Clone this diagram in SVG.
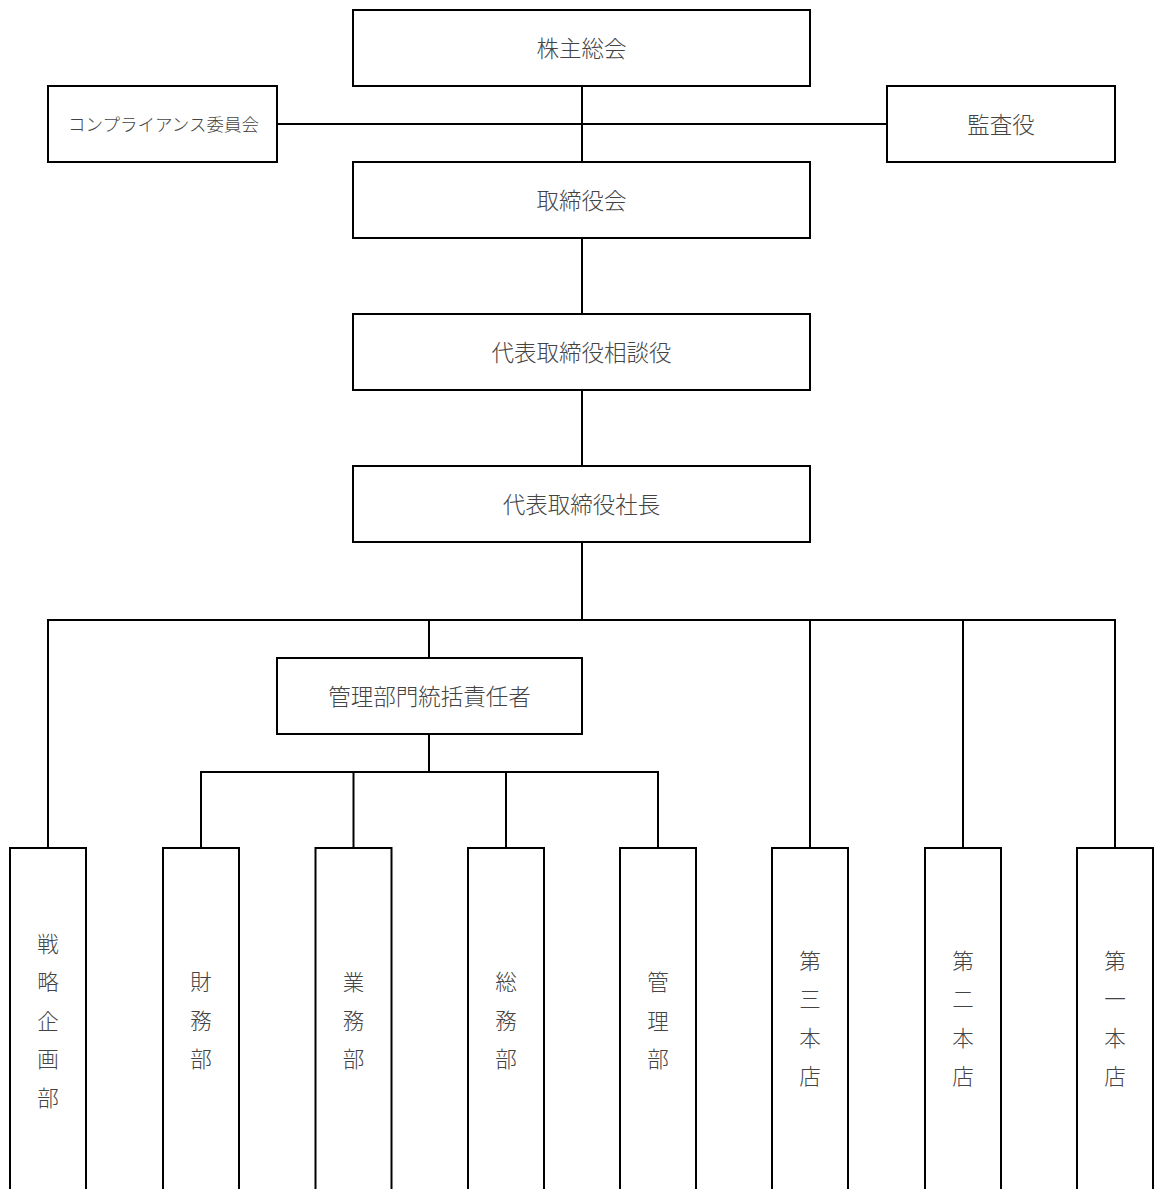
<svg xmlns="http://www.w3.org/2000/svg" width="1155" height="1189" viewBox="0 0 1155 1189">
<style>
.box{fill:#fff;stroke:#000;stroke-width:2}
.ln{fill:none;stroke:#000;stroke-width:2}
text{font-family:"Noto Sans CJK JP","Noto Sans CJK SC",sans-serif;font-weight:300;fill:#444;text-anchor:middle;dominant-baseline:central}
.t{font-size:22.5px}
.s{font-size:17.5px}
.v{font-size:21.5px}
</style>
<rect width="1155" height="1189" fill="#fff"/>
<g id="connectors">
<path class="ln" d="M582 86V162M582 238V314M582 390V466M582 542V620"/>
<path class="ln" d="M277 124H887"/>
<path class="ln" d="M48 848V620H1115V848M429 620V658M810 620V848M963 620V848"/>
<path class="ln" d="M429 734V772M201 848V772H658V848M353.5 772V848M506 772V848"/>
</g>
<g id="n-kabunushi"><rect class="box" x="353" y="10" width="457" height="76"/><text class="t" x="581.5" y="47">株主総会</text></g>
<g id="n-compliance"><rect class="box" x="48" y="86" width="229" height="76"/><text class="s" x="163.5" y="123">コンプライアンス委員会</text></g>
<g id="n-kansa"><rect class="box" x="887" y="86" width="228" height="76"/><text class="t" x="1001" y="123">監査役</text></g>
<g id="n-torishimariyakukai"><rect class="box" x="353" y="162" width="457" height="76"/><text class="t" x="581.5" y="199">取締役会</text></g>
<g id="n-soudanyaku"><rect class="box" x="353" y="314" width="457" height="76"/><text class="t" x="581.5" y="351">代表取締役相談役</text></g>
<g id="n-shacho"><rect class="box" x="353" y="466" width="457" height="76"/><text class="t" x="581.5" y="503">代表取締役社長</text></g>
<g id="n-kanri-toukatsu"><rect class="box" x="277" y="658" width="305" height="76"/><text class="t" x="429.5" y="695">管理部門統括責任者</text></g>
<g id="n-senryaku"><rect class="box" x="10" y="848" width="76" height="400"/>
<text class="v" x="48" y="942">戦</text><text class="v" x="48" y="980.5">略</text><text class="v" x="48" y="1019">企</text><text class="v" x="48" y="1057.5">画</text><text class="v" x="48" y="1096">部</text></g>
<g id="n-zaimu"><rect class="box" x="163" y="848" width="76" height="400"/>
<text class="v" x="201" y="980.5">財</text><text class="v" x="201" y="1019">務</text><text class="v" x="201" y="1057.5">部</text></g>
<g id="n-gyoumu"><rect class="box" x="315.5" y="848" width="76" height="400"/>
<text class="v" x="353.5" y="980.5">業</text><text class="v" x="353.5" y="1019">務</text><text class="v" x="353.5" y="1057.5">部</text></g>
<g id="n-soumu"><rect class="box" x="468" y="848" width="76" height="400"/>
<text class="v" x="506" y="980.5">総</text><text class="v" x="506" y="1019">務</text><text class="v" x="506" y="1057.5">部</text></g>
<g id="n-kanri"><rect class="box" x="620" y="848" width="76" height="400"/>
<text class="v" x="658" y="980.5">管</text><text class="v" x="658" y="1019">理</text><text class="v" x="658" y="1057.5">部</text></g>
<g id="n-dai3"><rect class="box" x="772" y="848" width="76" height="400"/>
<text class="v" x="810" y="959">第</text><text class="v" x="810" y="997.5">三</text><text class="v" x="810" y="1036">本</text><text class="v" x="810" y="1074.5">店</text></g>
<g id="n-dai2"><rect class="box" x="925" y="848" width="76" height="400"/>
<text class="v" x="963" y="959">第</text><text class="v" x="963" y="997.5">二</text><text class="v" x="963" y="1036">本</text><text class="v" x="963" y="1074.5">店</text></g>
<g id="n-dai1"><rect class="box" x="1077" y="848" width="76" height="400"/>
<text class="v" x="1115" y="959">第</text><text class="v" x="1115" y="997.5">一</text><text class="v" x="1115" y="1036">本</text><text class="v" x="1115" y="1074.5">店</text></g>
</svg>
